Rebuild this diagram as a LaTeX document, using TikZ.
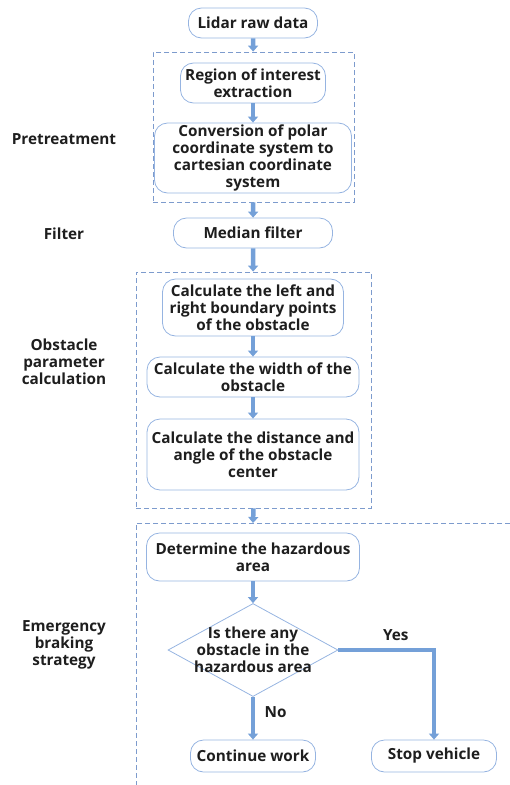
\documentclass[tikz,border=0pt]{standalone}
\usepackage{fontspec}
\setmainfont{Open Sans}
\usetikzlibrary{arrows.meta,positioning,shapes.geometric}
\definecolor{flowblue}{RGB}{116,160,216}
\definecolor{edgeblue}{RGB}{150,180,225}
\definecolor{dashblue}{RGB}{125,155,205}
\definecolor{inkgray}{RGB}{30,30,30}

\begin{document}
\begin{tikzpicture}[x=1pt,y=-1pt,font=\fontsize{15.3}{17}\selectfont\bfseries,text=inkgray,
  box/.style={draw=edgeblue,thick,rounded corners=13pt,align=center,inner sep=0pt},
  dia/.style={draw=edgeblue,thick,diamond,inner sep=0pt,minimum width=170,minimum height=93},
  grp/.style={draw=dashblue,thick,dash pattern=on 5pt off 3pt},
  flow/.style={draw=flowblue,line width=4.5pt,-{Triangle[width=10pt,length=6pt]}}]
\useasboundingbox (0,0) rectangle (510,785);
% group frames
\node[grp,minimum width=201,minimum height=150] (pre) at (253.5,127) {};
\node[grp,minimum width=235,minimum height=236] (obs) at (253.5,390) {};
\coordinate (brk) at (253,523);
\draw[grp] (510,523) -| (136,785);
% stage names
\node (lpre) at (64,139) {Pretreatment};
\node (lfil) at (64,234) {Filter};
\node[align=center] (lobs) at (64,362) {Obstacle\\parameter\\calculation};
\node[align=center] (lbrk) at (64,645) {Emergency\\braking\\strategy};
% steps
\node[box,minimum width=129,minimum height=30] (raw) at (253,23) {Lidar raw data};
\node[box,minimum width=145,minimum height=40] (roi) at (253,83) {Region of interest\\extraction};
\node[box,minimum width=197,minimum height=70] (conv) at (253,158) {Conversion of polar\\coordinate system to\\cartesian coordinate\\system};
\node[box,minimum width=159,minimum height=30] (med) at (253,233) {Median filter};
\node[box,minimum width=181,minimum height=57] (edge) at (253,307.5) {Calculate the left and\\right boundary points\\of the obstacle};
\node[box,minimum width=212,minimum height=40] (wid) at (253,377) {Calculate the width of the\\obstacle};
\node[box,minimum width=212,minimum height=71] (dist) at (253,454.5) {Calculate the distance and\\angle of the obstacle\\center};
\node[box,minimum width=213,minimum height=48] (haz) at (253,557) {Determine the hazardous\\area};
\node[dia,label={[align=center]center:Is there any\\obstacle in the\\hazardous area}] (ask) at (253,650) {};
\node[box,minimum width=125,minimum height=32] (cont) at (253,756) {Continue work};
\node[box,minimum width=125,minimum height=32] (stop) at (434,756) {Stop vehicle};
% arrows
\draw[flow] (raw) -- (pre);
\draw[flow] (roi) -- (conv);
\draw[flow] (pre) -- (med);
\draw[flow] (med) -- (obs);
\draw[flow] (edge) -- (wid);
\draw[flow] (wid) -- (dist);
\draw[flow] (obs.south) -- (brk);
\draw[flow] (haz) -- (ask);
\draw[flow] (ask) -- (cont) node[pos=.35,right=6pt] (no) {No};
\draw[flow] (ask.east) -| (stop.north) node[pos=.3,above=4pt] (yes) {Yes};
\end{tikzpicture}
\end{document}
